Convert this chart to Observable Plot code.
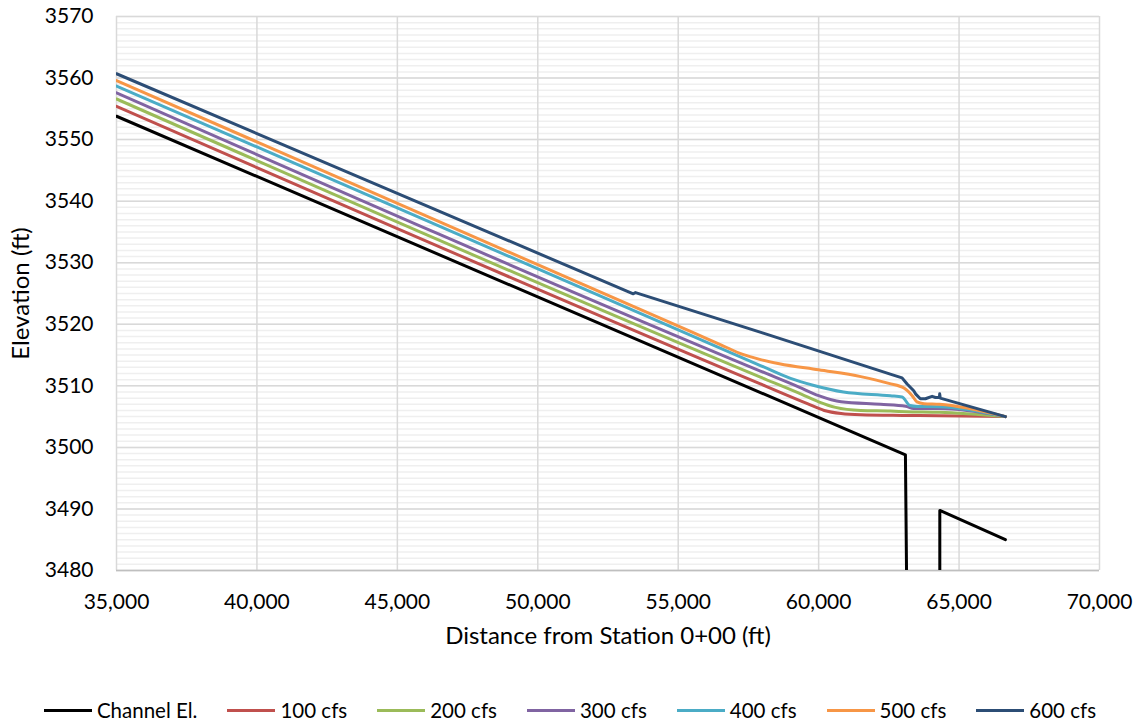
<!DOCTYPE html>
<html><head><meta charset="utf-8">
<script src="https://cdn.jsdelivr.net/npm/d3@7"></script>
<script src="https://cdn.jsdelivr.net/npm/@observablehq/plot@0.6"></script>
<style>
body{margin:0;background:#fff;font-family:Lato,"Open Sans",sans-serif;}
#chart{width:1140px;}
.legend{display:flex;justify-content:center;align-items:center;margin-top:38px;font-size:20.5px;color:#000;line-height:24px;}
.item{display:flex;align-items:center;margin:0 15px;}
.sw{width:48px;height:3px;margin-right:5px;}
</style></head><body><div id="chart"></div><div class="legend" id="legend"></div>
<script>
const seriesNames = ["Channel El.", "100 cfs", "200 cfs", "300 cfs", "400 cfs", "500 cfs", "600 cfs"];
const seriesColors = ["#000000", "#C0504D", "#9BBB59", "#8064A2", "#4BACC6", "#F79646", "#2C4D75"];
const xTicks = [35000, 40000, 45000, 50000, 55000, 60000, 65000, 70000];
const yTicks = [3480, 3490, 3500, 3510, 3520, 3530, 3540, 3550, 3560, 3570];
const yMinor = d3.range(3480, 3571, 1);

// [station (ft), elevation (ft)]
const channelEl = [[35000,3553.8],[63090,3498.8],[63150,3470],[64314,3470],[64314,3489.75],[66650,3485.0]];
const q100 = [[35000,3555.4],[57926,3510.3],[59600,3507.1],[60200,3506.0],[60800,3505.5],[61500,3505.3],[63000,3505.2],[64300,3505.15],[66650,3505.0]];
const q200 = [[35000,3556.6],[57926,3511.4],[59400,3508.6],[60000,3507.4],[60600,3506.5],[61500,3506.0],[62554,3505.9],[63100,3505.8],[64300,3505.7],[66650,3505.0]];
const q300 = [[35000,3557.6],[57926,3512.4],[59300,3509.8],[60000,3508.4],[60800,3507.4],[62200,3507.0],[63100,3506.7],[63385,3506.3],[64300,3506.3],[66650,3505.0]];
const q400 = [[35000,3558.7],[57926,3513.3],[59000,3511.2],[59800,3510.1],[60882,3509.0],[62554,3508.4],[62971,3508.2],[63250,3506.8],[63500,3506.65],[64300,3506.6],[66650,3505.0]];
const q500 = [[35000,3559.6],[53400,3522.9],[56500,3516.7],[57300,3515.1],[57900,3514.3],[58600,3513.6],[60000,3512.6],[61500,3511.5],[62500,3510.4],[63050,3509.6],[63330,3508.4],[63500,3507.4],[63750,3507.1],[64300,3507.0],[66650,3505.0]];
const q600 = [[35000,3560.7],[53400,3524.95],[53480,3525.15],[58000,3518.6],[62550,3511.9],[62970,3511.3],[63150,3510.3],[63385,3509.2],[63450,3508.7],[63620,3507.9],[63800,3507.9],[64040,3508.3],[64160,3508.1],[64300,3508.1],[64310,3508.7],[64330,3508.0],[66650,3505.0]];

const seriesData = [channelEl, q100, q200, q300, q400, q500, q600];
const rows = seriesData.flatMap((pts, i) => pts.map(([station, elev]) => ({series: seriesNames[i], station, elev})));
const smoothNames = seriesNames.slice(1, 6);
const channelRows = rows.filter(d => d.series === seriesNames[0]);
const smoothRows = rows.filter(d => smoothNames.includes(d.series));
const topRows = rows.filter(d => d.series === seriesNames[6]);

const chart = Plot.plot({
  width: 1140, height: 660,
  marginLeft: 116, marginRight: 41, marginTop: 16, marginBottom: 90,
  style: {fontFamily: "Lato, 'Open Sans', sans-serif", fontSize: "21px", color: "#000", background: "#fff"},
  x: {domain: [35000, 70000]},
  y: {domain: [3480, 3570]},
  color: {domain: seriesNames, range: seriesColors},
  marks: [
    Plot.gridY(yMinor, {stroke: "#efefef", strokeOpacity: 1, strokeWidth: 1.5}),
    Plot.gridY(yTicks, {stroke: "#d9d9d9", strokeOpacity: 1, strokeWidth: 1.5}),
    Plot.gridX(xTicks, {stroke: "#d9d9d9", strokeOpacity: 1, strokeWidth: 1.5}),
    Plot.ruleY([3480], {stroke: "#bfbfbf", strokeWidth: 1.5}),
    Plot.axisY(yTicks, {tickSize: 0, tickPadding: 23, tickFormat: d => String(d), label: null, fontSize: 21}),
    Plot.axisY(yTicks, {tickSize: 0, tickFormat: () => "", label: "Elevation (ft)", labelAnchor: "center", labelOffset: 105, labelArrow: "none", fontSize: 24}),
    Plot.axisX(xTicks, {tickSize: 0, tickPadding: 24, tickFormat: d3.format(","), label: null, fontSize: 21}),
    Plot.axisX(xTicks, {tickSize: 0, tickFormat: () => "", label: "Distance from Station 0+00 (ft)", labelAnchor: "center", labelOffset: 73, labelArrow: "none", fontSize: 24}),
    Plot.line(channelRows, {x: "station", y: "elev", stroke: "series", strokeWidth: 3, strokeLinejoin: "round", clip: true}),
    Plot.line(smoothRows, {x: "station", y: "elev", z: "series", stroke: "series", strokeWidth: 3, strokeLinejoin: "round", curve: "monotone-x", clip: true}),
    Plot.line(topRows, {x: "station", y: "elev", stroke: "series", strokeWidth: 3, strokeLinejoin: "round", clip: true})
  ]
});
document.getElementById("chart").append(chart);

const legend = document.getElementById("legend");
seriesNames.forEach((name, i) => {
  const item = document.createElement("div");
  item.className = "item";
  const sw = document.createElement("span");
  sw.className = "sw";
  sw.style.background = seriesColors[i];
  const t = document.createElement("span");
  t.textContent = name;
  item.append(sw, t);
  legend.append(item);
});
</script></body></html>
